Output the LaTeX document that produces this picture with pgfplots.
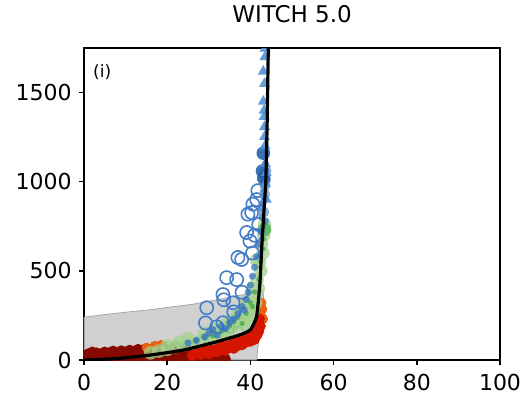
\documentclass[border=0pt]{standalone}
\usepackage{pgfplots}
\pgfplotsset{compat=1.18}
\usepackage{fontspec}
\setmainfont{DejaVu Sans}

\definecolor{bandgray}{RGB}{200,200,200}
\definecolor{darkred}{RGB}{135,10,0}
\definecolor{brightred}{RGB}{212,22,0}
\definecolor{orng}{RGB}{235,95,15}
\definecolor{lightgreen}{RGB}{165,210,140}
\definecolor{midgreen}{RGB}{70,170,80}
\definecolor{openblue}{RGB}{70,125,200}
\definecolor{fillblue}{RGB}{55,115,195}
\definecolor{deepblue}{RGB}{25,90,165}
\definecolor{triblue}{RGB}{80,145,215}

\begin{document}
\begin{tikzpicture}
\path[use as bounding box] (-42pt,-18pt) rectangle (222.5pt,180pt);
\begin{axis}[
  scale only axis,
  width=208pt, height=156pt,
  at={(0,0)}, anchor=south west,
  xmin=0, xmax=100, ymin=0, ymax=1750,
  xtick={0,20,40,60,80,100},
  ytick={0,500,1000,1500},
  tick pos=left,
  tick align=outside,
  major tick length=2.6pt,
  clip marker paths=true,
  axis line style={line width=0.6pt},
  tick style={draw=black, line width=0.7pt},
  xticklabel style={yshift=-1pt},
  /pgf/number format/assume math mode=true,
  /pgf/number format/1000 sep={},
  tick label style={font=\fontsize{11}{13}\selectfont},
  title={WITCH 5.0},
  title style={font=\fontsize{11.5}{14}\selectfont, at={(0.5,1)}, anchor=south, yshift=3pt},
]
% uncertainty envelope
\addplot[draw=gray!70, line width=0.4pt, fill=bandgray, fill opacity=0.85] coordinates {
  (0,0) (0,240) (5,255) (10,268) (16,282) (20,295) (26,312) (32,338) (36,356)
  (38.5,367) (41,385) (42.8,398) (43.2,360) (42.9,300) (42.5,220) (42.1,140)
  (41.8,70) (41.5,0) (0,0)
};

% low-end scatter
\addplot[only marks, mark=*, mark size=2.5pt, darkred] coordinates {
  (1,15) (1,35) (2,10) (2,30) (2,45) (3,20) (3,40) (4,12) (4,35) (5,25) (5,45)
  (6,15) (6,40) (7,28) (7,50) (8,12) (8,40) (9,30) (9,52) (10,18) (10,45)
  (11,25) (11,55) (12,15) (12,48) (13,32) (13,60) (14,20) (14,55) (15,35)
  (15,65) (16,18) (16,50) (17,38) (17,70) (18,22) (18,60) (19,40) (19,75)
  (20,15) (20,50) (21,30) (21,65) (22,10) (22,45) (23,25) (23,62) (24,8)
  (24,40) (25,20) (25,55) (26,8) (26,35) (27,18) (27,48) (28,5) (28,25)
  (29,12) (29,30) (30,5) (30,20) (31,10) (31,25) (32,5) (32,18) (33,8) (34,5)
};
\addplot[only marks, mark=*, mark size=2.2pt, orng] coordinates {
  (15,70) (17,80) (18.5,85) (42.6,250) (42.9,285) (42.7,320) (43.1,230)
};
\addplot[only marks, mark=*, mark size=2.5pt, brightred] coordinates {
  (26,25) (27,45) (28,30) (28,60) (29,40) (29.5,70) (30,35) (30.5,65) (31,50)
  (31.5,80) (32,45) (32.5,85) (33,60) (33.5,90) (34,55) (34.5,95) (35,70)
  (35.5,105) (36,65) (36.5,110) (37,80) (37.5,120) (38,85) (38.5,125) (39,100)
  (39.5,135) (40,105) (40.5,145) (41,115) (41.3,170) (41.6,140) (41.8,200)
  (42,160) (42.2,230) (42.4,190)
};

% mid-range scatter
\addplot[only marks, mark=*, mark size=3.4pt, lightgreen, mark options={fill opacity=0.75, draw opacity=0}] coordinates {
  (16,40) (18,50) (20,60) (22,75) (24,85) (26,95) (28,110) (30,120) (32,140)
  (33,155) (34,165) (35,180) (36,190) (37,210) (38,230) (38.5,200) (39,260)
  (39.5,240) (40,300) (40.5,270) (41,360) (41.3,320) (41.6,450) (41.9,400)
  (42.2,550) (42.5,500) (42.7,650) (43,600) (43.2,700) (43.4,760) (25,120)
  (29,150) (31,170) (35,220) (37,260) (20,80) (23,100) (33,190) (39,320)
  (40.5,400) (41.5,560)
};
\addplot[only marks, mark=o, mark size=2.6pt, midgreen!70, mark options={line width=0.5pt, draw opacity=0.7}] coordinates {
  (19,55) (22,70) (25,85) (28,100) (31,115) (34,135) (37,160) (35,180)
};
\addplot[only marks, mark=*, mark size=1.3pt, midgreen, mark options={fill opacity=0.8, draw opacity=0}] coordinates {
  (35,190) (37,240) (39,262) (40,322) (41,382) (42,452) (42.5,552) (43,622)
  (43.2,680) (31,135) (33,160) (38,205) (40.5,300) (27,110) (29,125) (36,215)
};
\addplot[only marks, mark=*, mark size=3.2pt, midgreen!85] coordinates {
  (43.4,732)
};

% blue series
\addplot[only marks, mark=o, mark size=3.3pt, openblue, mark options={line width=0.8pt}] coordinates {
  (29.2,208) (29.5,293) (31.9,186) (33.4,209) (33.6,338) (33.4,367) (34.3,462)
  (36.7,451) (35.8,321) (37,575) (37.9,564) (39.1,715) (39.9,667) (39.4,818)
  (40.3,827) (40.6,874) (41.5,900) (41.8,950) (38,380) (36,270) (40.5,600)
  (42,760) (41,700)
};
\addplot[only marks, mark=*, mark size=1.8pt, fillblue, mark options={fill opacity=0.75, draw opacity=0}] coordinates {
  (25,95) (27,110) (29,130) (30,150) (31,170) (32,140) (33,190) (34,175)
  (35,210) (36,230) (37,260) (38,300) (38.5,280) (39,340) (39.5,380) (40,420)
  (40.5,470) (41,520) (41.5,580) (42,650) (42.5,720) (42.8,800) (43,880)
  (43.2,950) (43.4,1000) (43.5,1050) (43.6,1100) (43.3,900) (42.7,850) (43.6,780)
};
\addplot[only marks, mark=*, mark size=2.8pt, fillblue!80, mark options={fill opacity=0.7, draw opacity=0}] coordinates {
  (43.2,830) (43.4,930) (43.6,1010) (43.7,1060) (43.5,980)
};
\addplot[only marks, mark=*, mark size=3.4pt, deepblue, mark options={fill opacity=0.85, draw opacity=0}] coordinates {
  (43.1,1160) (42.9,1060) (43.2,1020)
};
\addplot[only marks, mark=triangle*, mark size=3.2pt, triblue, mark options={fill opacity=0.9, draw opacity=0}] coordinates {
  (43.1,1619) (43.1,1450) (43.3,1365) (43.4,1308) (43.4,1252) (43.6,988)
  (43.5,1748) (43.5,1200) (43.6,1100) (43.8,900) (43.8,1050) (43.4,1550)
  (43.5,1700) (43.3,1400)
};

% central estimate
\addplot[black, line width=1.6pt, smooth, tension=0.25] coordinates {
  (0,0) (8,8) (16,28) (24,56) (32,103) (37.5,141) (40,169) (41.5,244)
  (42.3,434) (42.7,620) (43.3,850) (43.7,1000) (44.0,1300) (44.3,1750)
};

\node[anchor=north west, font=\fontsize{8.5}{10}\selectfont] at (rel axis cs:0.005,0.97) {(i)};
\end{axis}
% outward tick marks on the bottom and left edges of the 208pt x 156pt frame
\foreach \tx in {0,41.6,83.2,124.8,166.4,208}
  \draw[line width=0.7pt] (\tx pt,0pt) -- (\tx pt,-2.6pt);
\foreach \ty in {0,44.571,89.143,133.714}
  \draw[line width=0.7pt] (0pt,\ty pt) -- (-2.6pt,\ty pt);
\end{tikzpicture}
\end{document}
